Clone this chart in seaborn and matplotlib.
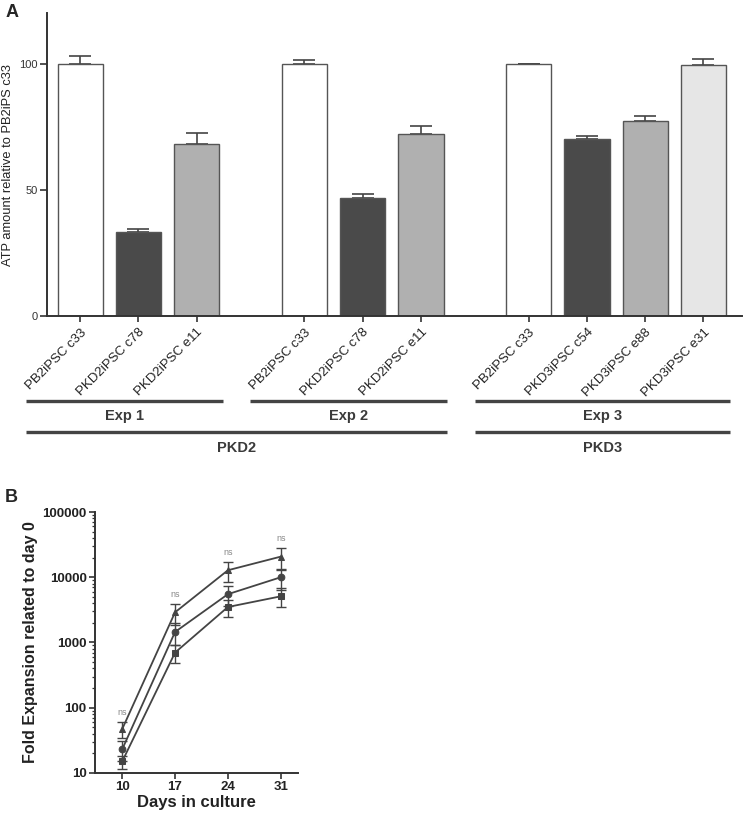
import matplotlib
matplotlib.use("Agg")
import matplotlib.pyplot as plt
import matplotlib.transforms as mtransforms
from matplotlib.ticker import LogLocator, NullFormatter, FuncFormatter
import numpy as np
import pandas as pd
import seaborn as sns

sns.set_style("ticks")
plt.rcParams["font.family"] = ["Liberation Sans", "DejaVu Sans"]

# ---- panel A data ----
cell_lines = ["PB2iPSC c33", "PKD2iPSC c78", "PKD2iPSC e11",
              "PB2iPSC c33", "PKD2iPSC c78", "PKD2iPSC e11",
              "PB2iPSC c33", "PKD3iPSC c54", "PKD3iPSC e88", "PKD3iPSC e31"]
bar_kind = ["ctrl", "c", "e", "ctrl", "c", "e", "ctrl", "c", "e", "e31"]
atp_mean = [100, 33.3, 68.2, 100, 46.8, 72.2, 100, 70.2, 77.4, 99.6]
atp_sem = [2.8, 1.2, 4.4, 1.2, 1.6, 3.2, 0.0, 1.2, 2.0, 2.0]
group_sizes = [3, 3, 4]
exp_names = ["Exp 1", "Exp 2", "Exp 3"]
pkd_names = ["PKD2", "PKD3"]
pkd_groups = [[0, 1], [2]]

# ---- panel B data ----
days = [10, 17, 24, 31]
fold_tri = [47, 2900, 12800, 20700]
err_tri = [13, 1050, 4300, 7700]
fold_circ = [23, 1450, 5500, 10000]
err_circ = [8, 550, 1900, 3600]
fold_sq = [15, 700, 3500, 5100]
err_sq = [3.5, 210, 1000, 1650]
sig_labels = ["ns", "ns", "ns", "ns"]

kind_colors = {"ctrl": "#ffffff", "c": "#4a4a4a", "e": "#b0b0b0", "e31": "#e6e6e6"}
ink = "#444444"

# bar positions: unit spacing within a group, wider gap between groups
gap = 1.85
positions = []
x0 = 0.0
for n in group_sizes:
    positions += [x0 + i for i in range(n)]
    x0 = positions[-1] + gap

fig = plt.figure(figsize=(7.44, 8.14), dpi=100)

# ================= A =================
axA = fig.add_axes([0.0632, 0.6118, 0.934, 0.3722])
sns.barplot(x=positions, y=atp_mean, hue=bar_kind, palette=kind_colors,
            native_scale=True, dodge=False, width=0.78, edgecolor="#555555",
            linewidth=1.0, legend=False, ax=axA, zorder=2)
axA.errorbar(positions, atp_mean, yerr=[np.zeros(len(atp_sem)), atp_sem],
             fmt="none", ecolor=ink, elinewidth=1.2, capsize=8, capthick=1.2, zorder=1)
axA.set_xlim(-0.57, positions[-1] + 0.66)
axA.set_ylim(0, 120)
axA.set_yticks([0, 50, 100])
axA.set_xticks(positions)
axA.set_xticklabels(cell_lines, rotation=45, ha="right", rotation_mode="anchor",
                    fontsize=9.5, color="#222222")
axA.tick_params(axis="y", labelsize=8, colors="#333333", length=5, width=1.2, pad=1.5)
axA.tick_params(axis="x", length=4, width=1.2, colors="#333333", labelcolor="#222222")
axA.set_xlabel("")
axA.set_ylabel("ATP amount relative to PB2iPS c33", fontsize=9.3, color="#222222", labelpad=4)
sns.despine(ax=axA)
for s in ["left", "bottom"]:
    axA.spines[s].set_linewidth(1.4)
    axA.spines[s].set_color("#333333")

# group brackets under the axis
trans = mtransforms.blended_transform_factory(axA.transData, axA.transAxes)
starts = np.cumsum([0] + group_sizes[:-1])
exp_spans = []
for s0, n, name in zip(starts, group_sizes, exp_names):
    xa = positions[s0] - 0.93
    xb = positions[s0 + n - 1] + 0.45
    exp_spans.append((xa, xb))
    axA.plot([xa, xb], [-0.28, -0.28], color=ink, lw=2.4, transform=trans,
             clip_on=False, solid_capstyle="butt")
    axA.text((xa + xb) / 2, -0.33, name, transform=trans, ha="center", va="center",
             fontsize=10.5, fontweight="bold", color="#3a3a3a")
for grp, name in zip(pkd_groups, pkd_names):
    xa = exp_spans[grp[0]][0]
    xb = exp_spans[grp[-1]][1]
    axA.plot([xa, xb], [-0.383, -0.383], color=ink, lw=2.4, transform=trans,
             clip_on=False, solid_capstyle="butt")
    axA.text((xa + xb) / 2, -0.436, name, transform=trans, ha="center", va="center",
             fontsize=10.5, fontweight="bold", color="#3a3a3a")

fig.text(0.007, 0.985, "A", fontsize=13, fontweight="bold", va="center")

# ================= B =================
axB = fig.add_axes([0.1277, 0.0504, 0.273, 0.3206])
series = {"tri": (fold_tri, err_tri), "circ": (fold_circ, err_circ), "sq": (fold_sq, err_sq)}
rows = []
for key, (vals, _) in series.items():
    for d, v in zip(days, vals):
        rows.append({"day": d, "fold": v, "line": key})
df = pd.DataFrame(rows)
sns.lineplot(data=df, x="day", y="fold", style="line", units="line", estimator=None,
             markers={"tri": "^", "circ": "o", "sq": "s"}, dashes=False,
             color=ink, lw=1.3, markersize=4.8, markeredgecolor=ink,
             legend=False, ax=axB)
for key, (vals, errs) in series.items():
    axB.errorbar(days, vals, yerr=errs, fmt="none", ecolor=ink, elinewidth=1.0,
                 capsize=3.5, capthick=1.0)
axB.set_yscale("log")
axB.set_ylim(10, 100000)
axB.set_xlim(6.4, 33.3)
axB.set_xticks(days)
axB.yaxis.set_major_locator(LogLocator(base=10))
axB.yaxis.set_minor_locator(LogLocator(base=10, subs=np.arange(2, 10)))
axB.yaxis.set_minor_formatter(NullFormatter())
axB.yaxis.set_major_formatter(FuncFormatter(lambda v, p: f"{int(round(v))}"))
axB.tick_params(axis="both", which="major", labelsize=9.5, length=4, width=1.2,
                colors="#333333", labelcolor="#222222", pad=2)
axB.tick_params(axis="y", which="minor", length=2.5, width=0.9, colors="#333333")
for lab in axB.get_xticklabels() + axB.get_yticklabels():
    lab.set_fontweight("bold")
axB.set_xlabel("Days in culture", fontsize=12, fontweight="bold", color="#222222",
               labelpad=1)
axB.set_ylabel("Fold Expansion related to day 0", fontsize=11.5, fontweight="bold",
               color="#222222", labelpad=3)
sns.despine(ax=axB)
for s in ["left", "bottom"]:
    axB.spines[s].set_linewidth(1.4)
    axB.spines[s].set_color("#333333")

# significance labels above the highest error bar of each day
tops = np.max([np.array(fold_tri) + np.array(err_tri),
               np.array(fold_circ) + np.array(err_circ),
               np.array(fold_sq) + np.array(err_sq)], axis=0)
for d, t, lab in zip(days, tops, sig_labels):
    axB.text(d, t * 1.4, lab, ha="center", va="center", fontsize=6.5, color="#888888")

fig.text(0.007, 0.389, "B", fontsize=13, fontweight="bold", va="center")

fig.savefig("out.png", dpi=100)
